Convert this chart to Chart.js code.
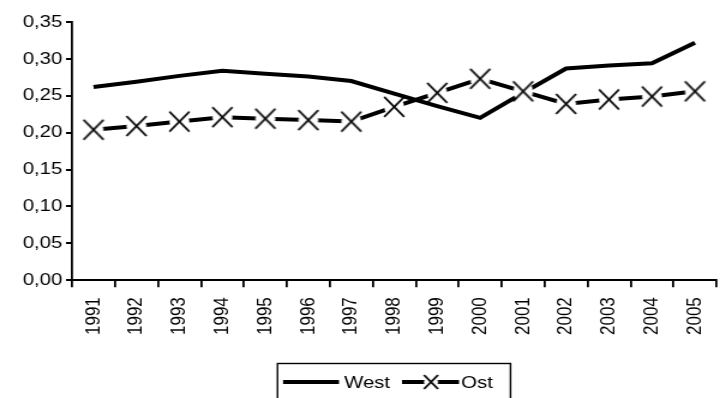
<!DOCTYPE html>
<html>
<head>
<meta charset="utf-8">
<script src="https://cdn.jsdelivr.net/npm/chart.js@4"></script>
<style>
  html, body { margin: 0; padding: 0; background: #fff; overflow: hidden; width: 725px; height: 398px; }
  /* the original is a stretched picture: draw narrow, widen by 1.2 */
  #wrap { position: relative; width: 611px; height: 398px; transform: scaleX(1.2); transform-origin: 0 0; }
</style>
</head>
<body>
<div id="wrap"><canvas id="grafico"></canvas></div>
<script>
// data
var years = ['1991', '1992', '1993', '1994', '1995', '1996', '1997', '1998', '1999', '2000', '2001', '2002', '2003', '2004', '2005'];
var west = [0.262, 0.269, 0.277, 0.284, 0.280, 0.276, 0.270, 0.253, 0.236, 0.220, 0.254, 0.287, 0.291, 0.294, 0.322];
var ost = [0.204, 0.209, 0.215, 0.221, 0.219, 0.217, 0.215, 0.235, 0.254, 0.273, 0.256, 0.239, 0.245, 0.249, 0.256];
var yTicks = [0, 0.05, 0.10, 0.15, 0.20, 0.25, 0.30, 0.35];

var SX = 1.2;
var fontFam = "'Liberation Sans', Arial, sans-serif";

// X marker with a white patch under it, so the line stops short of it
function makeMarker(h) {
    var hx = h / SX;
    var c = document.createElement('canvas');
    c.width = Math.ceil(hx * 2) + 4;
    c.height = h * 2 + 4;
    var g = c.getContext('2d');
    var mx = c.width / 2, my = c.height / 2;
    g.fillStyle = '#fff';
    g.beginPath();
    g.ellipse(mx, my, hx, h, 0, 0, Math.PI * 2);
    g.fill();
    g.strokeStyle = '#000';
    g.lineWidth = 1.9;
    g.beginPath();
    g.moveTo(mx - hx, my - h); g.lineTo(mx + hx, my + h);
    g.moveTo(mx + hx, my - h); g.lineTo(mx - hx, my + h);
    g.stroke();
    return c;
}
var marker = makeMarker(10);
var smallMarker = makeMarker(7);

// legend drawn by hand (positions in page pixels, divided by SX)
var legendBox = {
    id: 'legendBox',
    afterDraw: function (chart) {
        var ctx = chart.ctx;
        ctx.save();
        ctx.strokeStyle = '#000';
        ctx.lineWidth = 1.4;
        ctx.strokeRect(277.5 / SX, 363.5, 233 / SX, 40);
        var y = 382;
        ctx.lineWidth = 4;
        ctx.beginPath();
        ctx.moveTo(283 / SX, y); ctx.lineTo(339 / SX, y);
        ctx.moveTo(402 / SX, y); ctx.lineTo(459 / SX, y);
        ctx.stroke();
        ctx.drawImage(smallMarker, 431 / SX - smallMarker.width / 2, y - smallMarker.height / 2);
        ctx.fillStyle = '#000';
        ctx.font = '17px ' + fontFam;
        ctx.textBaseline = 'middle';
        ctx.fillText('West', 344 / SX, y + 1);
        ctx.fillText('Ost', 461 / SX, y + 1);
        ctx.restore();
    }
};

var ctx = document.querySelector('#grafico').getContext('2d');
var lineChart = new Chart(ctx, {
    type: 'line',
    data: {
        labels: years,
        datasets: [{
            label: 'Ost',
            data: ost,
            borderColor: '#000',
            borderWidth: 4,
            pointStyle: marker,
            pointRadius: 10,
            tension: 0,
            order: 0
        },
        {
            label: 'West',
            data: west,
            borderColor: '#000',
            borderWidth: 4,
            pointRadius: 0,
            tension: 0,
            order: 1
        }]
    },
    options: {
        responsive: true,
        maintainAspectRatio: false,
        animation: false,
        layout: { padding: { top: 22, right: 0, bottom: 53, left: 0 } },
        plugins: {
            legend: { display: false },
            tooltip: { enabled: false }
        },
        scales: {
            x: {
                offset: true,
                grid: { offset: true, drawOnChartArea: false, color: '#000', lineWidth: 1.8, tickLength: 7 },
                border: { color: '#000', width: 2 },
                ticks: { color: '#000', font: { family: fontFam, size: 17 }, minRotation: 90, maxRotation: 90, padding: 10, autoSkip: false }
            },
            y: {
                min: 0,
                max: 0.35,
                afterFit: function (s) { s.width = 72 / SX; },
                afterBuildTicks: function (s) { s.ticks = yTicks.map(function (v) { return { value: v }; }); },
                grid: { drawOnChartArea: false, color: '#000', lineWidth: 2, tickLength: 5 },
                border: { color: '#000', width: 1.8 },
                ticks: {
                    color: '#000',
                    font: { family: fontFam, size: 17 },
                    padding: 3,
                    callback: function (v) { return v.toFixed(2).replace('.', ','); }
                }
            }
        }
    },
    plugins: [legendBox]
});
</script>
</body>
</html>
